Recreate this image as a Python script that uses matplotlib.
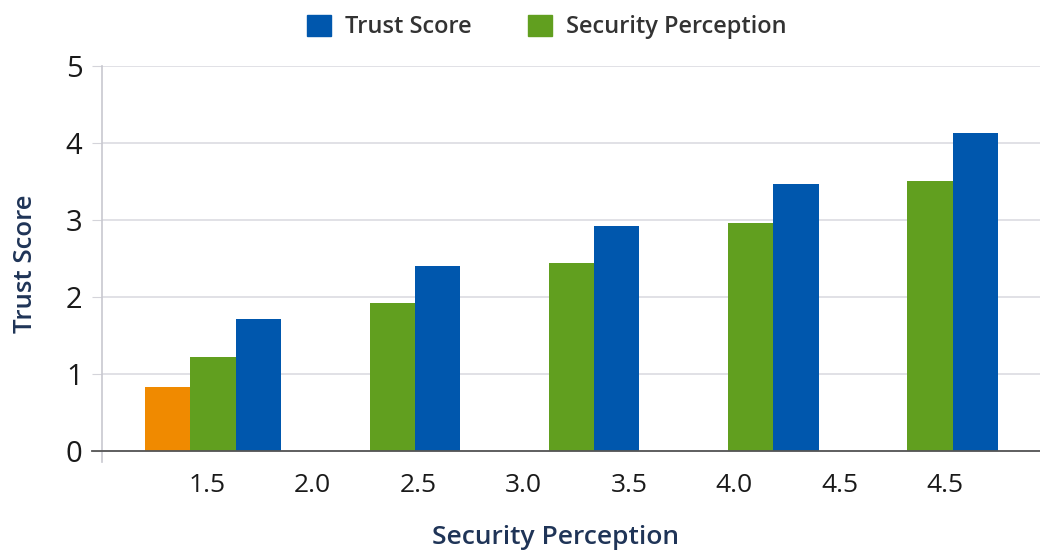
import numpy as np
import matplotlib
matplotlib.use("Agg")
from matplotlib import pyplot as plt
from matplotlib.patches import Patch

plt.rcParams['font.family'] = ['Open Sans', 'DejaVu Sans']

# data
tick_labels = ["1.5", "2.0", "2.5", "3.0", "3.5", "4.0", "4.5", "4.5"]
security = [1.22, 1.93, 2.45, 2.97, 3.51]
trust = [1.72, 2.41, 2.92, 3.47, 4.13]
extra = [0.83]   # lone orange bar in first group

blue = "#0057ad"
green = "#619f1f"
orange = "#f08a00"
navy = "#1f3457"

def main():
    fig = plt.figure(figsize=(10.4, 5.52), dpi=100)
    ax = fig.add_axes([0.098, 0.163, 0.902, 0.717])

    w = 0.43
    pos = np.arange(len(trust)) * 1.7 + 0.27   # green/blue boundary of each group
    ax.bar(pos - w/2, security, w, color=green, zorder=3)
    ax.bar(pos + w/2, trust, w, color=blue, zorder=3)
    ax.bar(pos[:1] - 1.5*w, extra, w, color=orange, zorder=3)

    ax.set_xlim(-1.0, 7.9)
    ax.set_ylim(-0.14, 5)
    ax.set_xticks(range(len(tick_labels)))
    ax.set_xticklabels(tick_labels, fontsize=19, color="#1a1a1a")
    ax.set_yticks([0, 1, 2, 3, 4, 5])
    ax.tick_params(axis='x', length=0, pad=8)
    ax.tick_params(axis='y', length=7, color="#d4d4da", labelsize=21,
                   labelcolor="#1a1a1a", pad=7)
    ax.grid(axis='y', color="#dcdce2", linewidth=1.2, zorder=0)

    for s in ['top', 'right', 'bottom']:
        ax.spines[s].set_visible(False)
    ax.spines['left'].set_color("#c8c8d0")
    ax.spines['left'].set_linewidth(1.2)

    # darker zero line, sticking out left like the ticks
    ax.plot([-0.011, 1.0], [0, 0], transform=ax.get_yaxis_transform(),
            color="#555555", linewidth=1.3, clip_on=False, zorder=4)

    ax.set_xlabel("Security Perception", fontsize=19, fontweight='semibold',
                  color=navy, labelpad=19)
    ax.xaxis.label.set_x(0.484)
    ax.set_ylabel("Trust Score", fontsize=18.5, fontweight='semibold',
                  color=navy, labelpad=20)

    handles = [Patch(color=blue, label="Trust Score"),
               Patch(color=green, label="Security Perception")]
    leg = fig.legend(handles=handles, loc='upper center', ncol=2,
                     bbox_to_anchor=(0.526, 1.012), frameon=False,
                     handlelength=1.0, handleheight=1.0, handletextpad=0.6,
                     columnspacing=2.4,
                     prop={'size': 17, 'weight': 'semibold'})
    for t in leg.get_texts():
        t.set_color("#333333")

    fig.savefig("out.png", dpi=100)

main()
